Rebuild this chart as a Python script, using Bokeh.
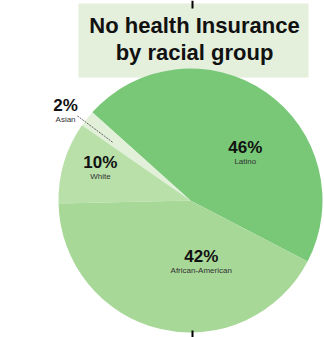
import math
from bokeh.plotting import figure
from bokeh.models import Range1d, ColumnDataSource
from bokeh.core.properties import value
from bokeh.embed import file_html
from bokeh.resources import INLINE

# data
groups = ["Latino", "Asian", "White", "African-American"]
shares = [46, 2, 10, 42]
colors = ["#78c878", "#e2f0da", "#b8e0a8", "#a8d898"]
title_lines = ["No health Insurance", "by racial group"]

W, H = 324, 337
R_PX = 132.0
cx_px, cy_px = 190.0, 200.0

p = figure(width=W, height=H, output_backend="svg", toolbar_location=None,
           x_range=Range1d(-cx_px / R_PX, (W - cx_px) / R_PX),
           y_range=Range1d(-(H - cy_px) / R_PX, cy_px / R_PX),
           min_border=0)
p.axis.visible = False
p.grid.visible = False
p.outline_line_color = None
p.background_fill_color = "white"
p.border_fill_color = "white"

def px(x, y):
    return ((x - cx_px) / R_PX, (cy_px - y) / R_PX)

# title box
bx0, by0 = px(78, 3)
bx1, by1 = px(308, 77)
p.quad(left=[bx0], right=[bx1], top=[by0], bottom=[by1],
       fill_color="#e4efdc", line_color=None)

# wedges
start0 = -27.5
total = sum(shares)
starts, ends = [], []
a = start0
for s in shares:
    starts.append(math.radians(a))
    a += 360.0 * s / total
    ends.append(math.radians(a))
src = ColumnDataSource(dict(start=starts, end=ends, color=colors, group=groups))
p.wedge(x=0, y=0, radius=1.0, start_angle="start", end_angle="end",
        fill_color="color", line_color=None, source=src)

# labels: (angle shift deg, radius fraction)
label_pos = {"Latino": (-11, 0.58), "Asian": (1.0, 1.19),
             "White": (-6, 0.74), "African-American": (24, 0.43)}
for g, s, st, en in zip(groups, shares, starts, ends):
    mid = math.degrees((st + en) / 2)
    dA, r = label_pos[g]
    ang = math.radians(mid + dA)
    x, y = r * math.cos(ang), r * math.sin(ang)
    p.text(x=[x], y=[y], text=[f"{s}%"], text_font=value("Liberation Sans"),
           text_font_style="bold", text_font_size="17px", text_color="#111111",
           text_align="center", text_baseline="middle")
    p.text(x=[x], y=[y], text=[g], text_font=value("Liberation Sans"),
           text_font_size="8px", text_color="#333333", y_offset=14,
           text_align="center", text_baseline="middle")
    if g == "Asian":
        la = math.radians(mid + 1.5)
        p.line(x=[1.07 * math.cos(la), 0.73 * math.cos(la)],
               y=[1.07 * math.sin(la), 0.73 * math.sin(la)],
               line_color="#666666", line_width=1, line_dash="2 1")

# title
for i, t in enumerate(title_lines):
    tx, ty = px(194, 25 + 27 * i)
    p.text(x=[tx], y=[ty], text=[t], text_font=value("Liberation Sans"),
           text_font_style="bold", text_font_size="22px", text_color="#111111",
           text_align="center", text_baseline="middle")

# small tick marks
for (y0, y1) in [(0, 8), (330, 337)]:
    xa, ya = px(192, y0)
    xb, yb = px(192, y1)
    p.line(x=[xa, xb], y=[ya, yb], line_color="black", line_width=2)

open("out.html", "w").write(file_html(p, INLINE))
